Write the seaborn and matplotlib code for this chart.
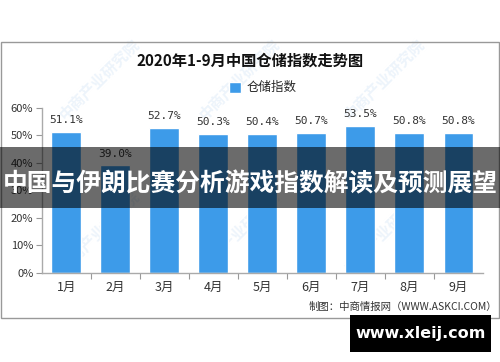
"""Monthly China warehousing index, Jan-Sep 2020, bar chart."""
import matplotlib
matplotlib.use("Agg")
import matplotlib.pyplot as plt
from matplotlib.patches import Rectangle
import pandas as pd
import seaborn as sns

sns.set_theme(style="white")
plt.rcParams["font.family"] = ["Noto Sans CJK SC", "DejaVu Sans"]

months = ["1月", "2月", "3月", "4月", "5月", "6月", "7月", "8月", "9月"]
index_values = [51.1, 39.0, 52.7, 50.3, 50.4, 50.7, 53.5, 50.8, 50.8]
y_ticks = [0, 10, 20, 30, 40, 50, 60]

title = "2020年1-9月中国仓储指数走势图"
legend_label = "仓储指数"
source = "制图：中商情报网（WWW.ASKCI.COM）"
banner = "中国与伊朗比赛分析游戏指数解读及预测展望"
site = "www.xleij.com"
watermark = "中商产业研究院"

BLUE = "#3d9be9"
df = pd.DataFrame({"month": months, "value": index_values})

fig = plt.figure(figsize=(5.0, 3.62), dpi=100)
fig.patch.set_facecolor("white")

# faint diagonal watermarks behind the chart
for wx in [0.20, 0.48, 0.77]:
    for wy in [0.78, 0.36]:
        fig.text(wx, wy, watermark, rotation=45, fontsize=11, color="#edf4fb",
                 ha="center", va="center", fontweight="bold", zorder=-5)

ax = fig.add_axes([0.0834, 0.2467, 0.8826, 0.4558])
ax.set_facecolor("none")
sns.barplot(data=df, x="month", y="value", color=BLUE, width=0.61,
            saturation=1, ax=ax, label=legend_label)

for i, v in enumerate(index_values):
    ax.annotate(f"{v:.1f}%", (i, v), xytext=(0, 5), textcoords="offset points",
                ha="center", va="bottom", fontsize=8, color="#333333",
                family="DejaVu Sans Mono", annotation_clip=False)

ax.set_ylim(0, 60)
ax.set_xlim(-0.5, len(months) - 0.5)
ax.set_yticks(y_ticks)
ax.set_yticklabels([f"{t}%" for t in y_ticks], fontsize=8, color="#333333")
ax.set_xticks(range(len(months)))
ax.set_xticklabels(months, fontsize=9, color="#333333")
ax.set_xticks([i + 0.5 for i in range(len(months) - 1)], minor=True)
ax.tick_params(axis="y", which="major", direction="out", length=4, width=0.8,
               color="#999999", pad=2, left=True)
ax.tick_params(axis="x", which="major", length=0, pad=6)
ax.tick_params(axis="x", which="minor", direction="out", length=4, width=0.8,
               color="#999999", bottom=True)
ax.set_xlabel("")
ax.set_ylabel("")
for side in ["top", "right"]:
    ax.spines[side].set_visible(False)
for side in ["left", "bottom"]:
    ax.spines[side].set_color("#aaaaaa")
    ax.spines[side].set_linewidth(1.0)

ax.legend(loc="center", bbox_to_anchor=(0.5, 1.12), frameon=False,
          fontsize=9, handlelength=1.0, handleheight=1.0, handletextpad=0.4)

fig.text(0.5, 0.834, title, ha="center", va="center", fontsize=11,
         fontweight="bold", color="#111111")
fig.text(0.994, 0.152, source, ha="right", va="center", fontsize=7.5,
         color="#333333")

# chart frame
fig.patches.append(Rectangle((0.002, 0.121), 0.996, 0.762, transform=fig.transFigure,
                             fill=False, edgecolor="#999999", linewidth=1.0))

# dark banner across the middle
fig.patches.append(Rectangle((0, 0.425), 1, 0.169, transform=fig.transFigure,
                             facecolor="black", alpha=0.58, edgecolor="none", zorder=2))
fig.text(0.5, 0.492, banner, ha="center", va="center", fontsize=17.8,
         fontweight="bold", color="white", zorder=3)

# site badge
fig.patches.append(Rectangle((0.70, 0.028), 0.282, 0.102, transform=fig.transFigure,
                             facecolor="black", edgecolor="none", zorder=2))
fig.text(0.841, 0.079, site, ha="center", va="center", fontsize=11.5,
         fontweight="bold", color="white", family="DejaVu Sans", zorder=3)

fig.savefig("out.png", dpi=100)
